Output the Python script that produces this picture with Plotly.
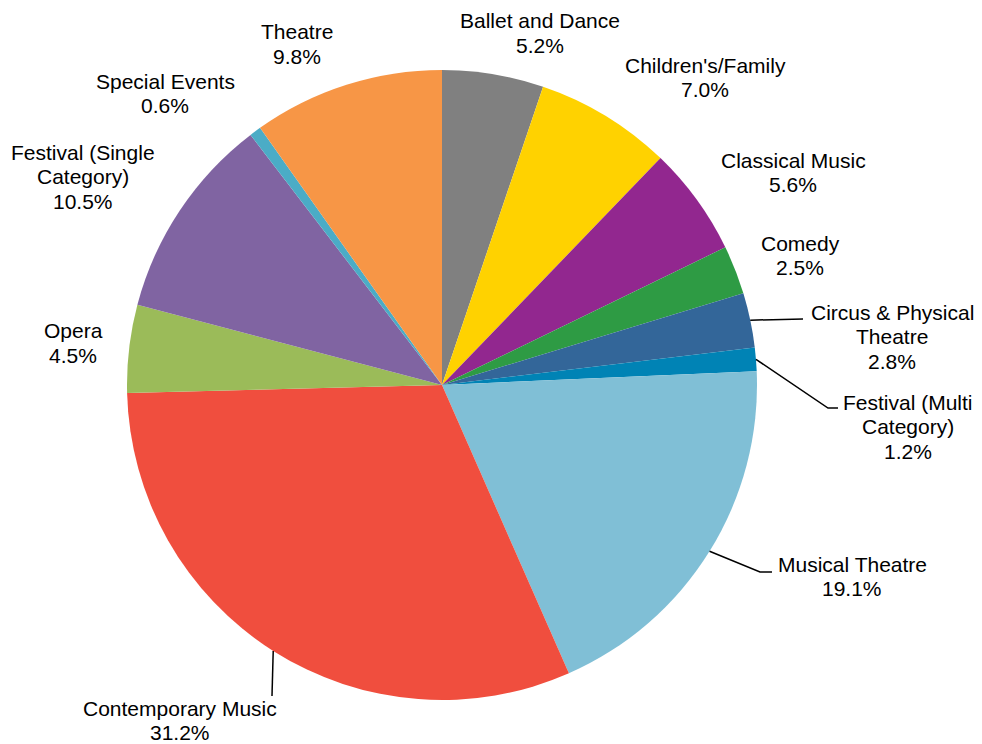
import math
import plotly.graph_objects as go

# Share of performances by genre, listed clockwise from 12 o'clock
genres = [
    "Ballet and Dance", "Children's/Family", "Classical Music", "Comedy",
    "Circus & Physical Theatre", "Festival (Multi Category)", "Musical Theatre",
    "Contemporary Music", "Opera", "Festival (Single Category)",
    "Special Events", "Theatre",
]
shares = [5.2, 7.0, 5.6, 2.5, 2.8, 1.2, 19.1, 31.2, 4.5, 10.5, 0.6, 9.8]
colors = [
    "#808080", "#FFD200", "#92278F", "#2E9B44", "#336699", "#0083B5",
    "#80BFD6", "#F04E3E", "#9BBB59", "#8064A2", "#4BACC6", "#F79646",
]

# Label text lines for each genre (name may wrap over two lines)
label_lines = {
    "Ballet and Dance": ["Ballet and Dance"],
    "Children's/Family": ["Children's/Family"],
    "Classical Music": ["Classical Music"],
    "Comedy": ["Comedy"],
    "Circus & Physical Theatre": ["Circus & Physical", "Theatre"],
    "Festival (Multi Category)": ["Festival (Multi", "Category)"],
    "Musical Theatre": ["Musical Theatre"],
    "Contemporary Music": ["Contemporary Music"],
    "Opera": ["Opera"],
    "Festival (Single Category)": ["Festival (Single", "Category)"],
    "Special Events": ["Special Events"],
    "Theatre": ["Theatre"],
}

W, H = 982, 744
CX, CY, R = 442, 385, 315  # pie centre and radius in pixels
LINE_GAP = 24.5

# Label block placement: (centre x, first line centre y) in pixels
label_pos = {
    "Ballet and Dance": (540, 21),
    "Children's/Family": (705, 65),
    "Classical Music": (793, 160),
    "Comedy": (800, 243),
    "Circus & Physical Theatre": (892, 312),
    "Festival (Multi Category)": (908, 402),
    "Musical Theatre": (852, 564),
    "Contemporary Music": (180, 708),
    "Opera": (73, 331),
    "Festival (Single Category)": (83, 152),
    "Special Events": (165, 81),
    "Theatre": (297, 32),
}

# Leader line bends for labels that sit away from their slices
leader_bends = {
    "Circus & Physical Theatre": [(803, 319)],
    "Festival (Multi Category)": [(828, 408), (838, 408)],
    "Musical Theatre": [(760, 572), (772, 572)],
    "Contemporary Music": [(272, 696)],
}


def px(x):
    return x / W


def py(y):
    return 1 - y / H


fig = go.Figure(
    go.Pie(
        labels=genres,
        values=shares,
        sort=False,
        direction="clockwise",
        rotation=0,
        marker=dict(colors=colors, line=dict(width=0)),
        textinfo="none",
        hoverinfo="label+percent",
        showlegend=False,
        domain=dict(x=[px(CX - R), px(CX + R)], y=[py(CY + R), py(CY - R)]),
    )
)

annotations = []
shapes = []
total = sum(shares)
cum = 0.0
for name, val in zip(genres, shares):
    mid = (cum + val / 2) / total * 2 * math.pi
    cum += val
    lx, ly = label_pos[name]
    lines = label_lines[name] + [f"{val:.1f}%"]
    for i, txt in enumerate(lines):
        annotations.append(
            dict(
                x=px(lx), y=py(ly + i * LINE_GAP), xref="paper", yref="paper",
                text=txt, showarrow=False, xanchor="center", yanchor="middle",
                borderpad=0,
                font=dict(family="Liberation Sans, Arial, sans-serif", size=21, color="#000000"),
            )
        )
    if name in leader_bends:
        ex = CX + R * math.sin(mid)
        ey = CY - R * math.cos(mid)
        pts = [(ex, ey)] + leader_bends[name]
        path = "M " + " L ".join(f"{px(x):.5f},{py(y):.5f}" for x, y in pts)
        shapes.append(
            dict(type="path", path=path, xref="paper", yref="paper",
                 line=dict(color="#000000", width=1.5))
        )

fig.update_layout(
    width=W, height=H,
    margin=dict(l=0, r=0, t=0, b=0),
    paper_bgcolor="white",
    plot_bgcolor="white",
    annotations=annotations,
    shapes=shapes,
)

fig.write_html("out.html")
